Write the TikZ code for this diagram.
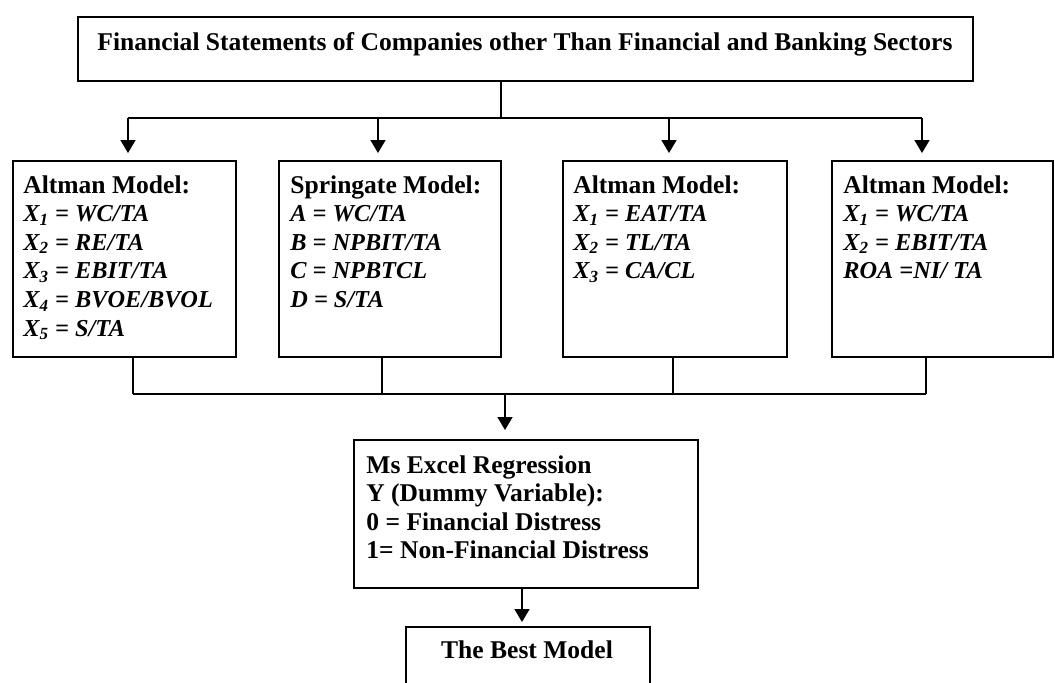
\documentclass[tikz,border=0pt]{standalone}
\usepackage{fontspec}
\setmainfont[Scale=1.03]{Liberation Serif}
\usetikzlibrary{arrows.meta,calc}
\newcommand{\itl}[1]{{\fontsize{11.8}{14.3}\selectfont\itshape #1}}
\begin{document}
\begin{tikzpicture}[x=0.5pt,y=-0.5pt,
  box/.style={draw,line width=0.85pt,rectangle,inner sep=0pt,anchor=north west},
  txt/.style={anchor=base west,inner sep=0pt,font=\fontsize{12.4}{14.3}\selectfont\bfseries},
  conn/.style={line width=0.8pt},
  arr/.style={line width=0.8pt,-{Triangle[length=6.5pt,width=7.5pt]}}]
\useasboundingbox (0,0) rectangle (1055,682);
\clip (0,0) rectangle (1055,682);
% boxes
\node[box,minimum width=447.5pt,minimum height=32pt] (top) at (77,16) {};
\node[box,minimum width=111.5pt,minimum height=98pt] (b1) at (12,160) {};
\node[box,minimum width=111pt,minimum height=98pt] (b2) at (278,160) {};
\node[box,minimum width=112pt,minimum height=98pt] (b3) at (562,160) {};
\node[box,minimum width=110.5pt,minimum height=98pt] (b4) at (831,160) {};
\node[box,minimum width=172pt,minimum height=74pt] (mid) at (353,439) {};
\node[box,minimum width=122pt,minimum height=50pt] (best) at (405,626) {};
% texts
\node[txt] (ttop) at (97,50) {Financial Statements of Companies other Than Financial and Banking Sectors};
\node[txt] (t1) at (23,193) {\begin{tabular}[t]{@{}l@{}}Altman Model:\\
\itl{X\textsubscript{1} = WC/TA}\\
\itl{X\textsubscript{2} = RE/TA}\\
\itl{X\textsubscript{3} = EBIT/TA}\\
\itl{X\textsubscript{4} = BVOE/BVOL}\\
\itl{X\textsubscript{5} = S/TA}\end{tabular}};
\node[txt] (t2) at (290,193) {\begin{tabular}[t]{@{}l@{}}Springate Model:\\
\itl{A = WC/TA}\\
\itl{B = NPBIT/TA}\\
\itl{C = NPBTCL}\\
\itl{D = S/TA}\end{tabular}};
\node[txt] (t3) at (573,193) {\begin{tabular}[t]{@{}l@{}}Altman Model:\\
\itl{X\textsubscript{1} = EAT/TA}\\
\itl{X\textsubscript{2} = TL/TA}\\
\itl{X\textsubscript{3} = CA/CL}\end{tabular}};
\node[txt] (t4) at (843,193) {\begin{tabular}[t]{@{}l@{}}Altman Model:\\
\itl{X\textsubscript{1} = WC/TA}\\
\itl{X\textsubscript{2} = EBIT/TA}\\
\itl{ROA =NI/ TA}\end{tabular}};
\node[txt] (tmid) at (366,473) {\begin{tabular}[t]{@{}l@{}}Ms Excel Regression\\
Y (Dummy Variable):\\
0 = Financial Distress\\
1= Non-Financial Distress\end{tabular}};
\node[txt,anchor=base] (tbest) at (527,658) {The Best Model};
% top connectors
\coordinate (j1) at (501,118);
\coordinate (d1) at (128,118);
\coordinate (d2) at (378,118);
\coordinate (d3) at (669,118);
\coordinate (d4) at (922,118);
\draw[conn] (top.south -| j1) -- (j1);
\draw[conn] (d1) -- (d4);
\foreach \d/\b in {d1/b1,d2/b2,d3/b3,d4/b4}
  \draw[arr,shorten >=3.5pt] (\d) -- (\d |- \b.north);
% bottom connectors
\coordinate (u1) at (133,394);
\coordinate (u2) at (382,394);
\coordinate (u3) at (673,394);
\coordinate (u4) at (926,394);
\coordinate (j2) at (505,394);
\foreach \u/\b in {u1/b1,u2/b2,u3/b3,u4/b4}
  \draw[conn] (\u |- \b.south) -- (\u);
\draw[conn] (u1) -- (u4);
\draw[arr,shorten >=4.5pt] (j2) -- (j2 |- mid.north);
\coordinate (j3) at (522,587);
\draw[arr,shorten >=2pt] (j3 |- mid.south) -- (j3 |- best.north);
\end{tikzpicture}
\end{document}
